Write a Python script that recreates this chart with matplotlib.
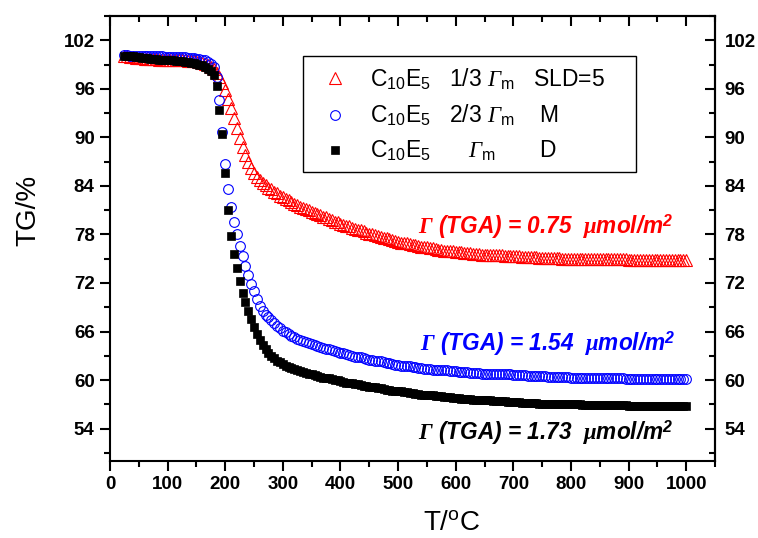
import matplotlib
matplotlib.use("Agg")
import matplotlib.pyplot as plt
from matplotlib.ticker import MultipleLocator
from matplotlib.patches import Rectangle

plt.rcParams['font.family'] = ['Liberation Sans', 'DejaVu Sans']
plt.rcParams['font.weight'] = 'bold'
plt.rcParams['mathtext.fontset'] = 'custom'
plt.rcParams['mathtext.rm'] = 'Liberation Serif:style=italic:weight=normal'
plt.rcParams['mathtext.it'] = 'Liberation Serif:style=italic:weight=normal'
plt.rcParams['mathtext.bf'] = 'Liberation Serif:style=italic:weight=bold'
plt.rcParams['mathtext.sf'] = 'Liberation Sans:style=italic:weight=bold'
plt.rcParams['mathtext.tt'] = 'Liberation Sans:style=normal:weight=normal'

# ---------------- data ----------------
temperature = [
    25, 30, 35, 40, 45, 50, 55, 60, 65, 70,
    75, 80, 85, 90, 95, 100, 105, 110, 115, 120,
    125, 130, 135, 140, 145, 150, 155, 160, 165, 170,
    175, 180, 185, 190, 195, 200, 205, 210, 215, 220,
    225, 230, 235, 240, 245, 250, 255, 260, 265, 270,
    275, 280, 285, 290, 295, 300, 305, 310, 315, 320,
    325, 330, 335, 340, 345, 350, 355, 360, 365, 370,
    375, 380, 385, 390, 395, 400, 405, 410, 415, 420,
    425, 430, 435, 440, 445, 450, 455, 460, 465, 470,
    475, 480, 485, 490, 495, 500, 505, 510, 515, 520,
    525, 530, 535, 540, 545, 550, 555, 560, 565, 570,
    575, 580, 585, 590, 595, 600, 605, 610, 615, 620,
    625, 630, 635, 640, 645, 650, 655, 660, 665, 670,
    675, 680, 685, 690, 695, 700, 705, 710, 715, 720,
    725, 730, 735, 740, 745, 750, 755, 760, 765, 770,
    775, 780, 785, 790, 795, 800, 805, 810, 815, 820,
    825, 830, 835, 840, 845, 850, 855, 860, 865, 870,
    875, 880, 885, 890, 895, 900, 905, 910, 915, 920,
    925, 930, 935, 940, 945, 950, 955, 960, 965, 970,
    975, 980, 985, 990, 995, 1000,
]

tg_third = [  # 1/3 Gamma_m, SLD=5 (red triangles)
    100.0, 100.0, 99.9, 99.9, 99.8, 99.8, 99.8, 99.7, 99.7, 99.7,
    99.7, 99.7, 99.6, 99.6, 99.6, 99.6, 99.6, 99.5, 99.5, 99.5,
    99.5, 99.5, 99.4, 99.4, 99.4, 99.4, 99.3, 99.2, 99.1, 98.9,
    98.7, 98.4, 97.9, 97.4, 96.7, 95.8, 94.8, 93.6, 92.4, 91.1,
    89.9, 88.8, 87.8, 86.9, 86.2, 85.6, 85.1, 84.7, 84.4, 84.1,
    83.8, 83.6, 83.3, 83.1, 82.8, 82.6, 82.4, 82.2, 82.0, 81.8,
    81.6, 81.4, 81.3, 81.1, 81.0, 80.8, 80.7, 80.5, 80.4, 80.2,
    80.1, 79.9, 79.8, 79.6, 79.5, 79.3, 79.2, 79.1, 79.0, 78.8,
    78.7, 78.6, 78.5, 78.4, 78.2, 78.1, 78.0, 77.9, 77.8, 77.7,
    77.6, 77.5, 77.4, 77.3, 77.2, 77.1, 77.0, 77.0, 76.9, 76.8,
    76.7, 76.7, 76.6, 76.5, 76.5, 76.4, 76.3, 76.3, 76.2, 76.1,
    76.1, 76.0, 76.0, 75.9, 75.9, 75.8, 75.8, 75.8, 75.7, 75.7,
    75.7, 75.6, 75.6, 75.6, 75.5, 75.5, 75.5, 75.5, 75.4, 75.4,
    75.4, 75.4, 75.3, 75.3, 75.3, 75.3, 75.3, 75.3, 75.2, 75.2,
    75.2, 75.2, 75.2, 75.2, 75.1, 75.1, 75.1, 75.1, 75.1, 75.1,
    75.1, 75.1, 75.0, 75.0, 75.0, 75.0, 75.0, 75.0, 75.0, 75.0,
    75.0, 75.0, 75.0, 75.0, 75.0, 75.0, 75.0, 75.0, 75.0, 75.0,
    75.0, 75.0, 75.0, 75.0, 75.0, 74.9, 74.9, 74.9, 74.9, 74.9,
    74.9, 74.9, 74.9, 74.9, 74.9, 74.9, 74.9, 74.9, 74.9, 74.9,
    74.9, 74.9, 74.9, 74.9, 74.9, 74.9,
]

tg_two_thirds = [  # 2/3 Gamma_m, M (blue circles)
    100.2, 100.2, 100.1, 100.1, 100.1, 100.1, 100.0, 100.0, 100.0, 100.0,
    100.0, 100.0, 100.0, 100.0, 99.9, 99.9, 99.9, 99.9, 99.9, 99.9,
    99.9, 99.9, 99.8, 99.8, 99.8, 99.7, 99.7, 99.6, 99.5, 99.3,
    99.1, 98.7, 97.4, 94.6, 90.6, 86.7, 83.6, 81.4, 79.6, 78.0,
    76.6, 75.3, 74.1, 73.0, 71.9, 71.0, 70.0, 69.2, 68.6, 68.1,
    67.8, 67.4, 67.0, 66.7, 66.4, 66.1, 65.9, 65.7, 65.5, 65.3,
    65.1, 65.0, 64.8, 64.7, 64.6, 64.4, 64.3, 64.2, 64.1, 64.0,
    63.9, 63.8, 63.7, 63.6, 63.5, 63.4, 63.3, 63.2, 63.1, 63.0,
    62.9, 62.9, 62.8, 62.7, 62.6, 62.5, 62.5, 62.4, 62.3, 62.3,
    62.2, 62.1, 62.1, 62.0, 61.9, 61.9, 61.8, 61.8, 61.7, 61.7,
    61.6, 61.6, 61.5, 61.5, 61.4, 61.4, 61.4, 61.3, 61.3, 61.3,
    61.2, 61.2, 61.2, 61.1, 61.1, 61.1, 61.0, 61.0, 61.0, 61.0,
    60.9, 60.9, 60.9, 60.9, 60.8, 60.8, 60.8, 60.8, 60.8, 60.7,
    60.7, 60.7, 60.7, 60.7, 60.7, 60.6, 60.6, 60.6, 60.6, 60.6,
    60.5, 60.5, 60.5, 60.5, 60.5, 60.5, 60.5, 60.4, 60.4, 60.4,
    60.4, 60.4, 60.4, 60.4, 60.4, 60.3, 60.3, 60.3, 60.3, 60.3,
    60.3, 60.3, 60.3, 60.2, 60.2, 60.2, 60.2, 60.2, 60.2, 60.2,
    60.2, 60.2, 60.2, 60.2, 60.1, 60.1, 60.1, 60.1, 60.1, 60.1,
    60.1, 60.1, 60.1, 60.1, 60.1, 60.1, 60.1, 60.1, 60.1, 60.1,
    60.1, 60.1, 60.1, 60.1, 60.1, 60.1,
]

tg_full = [  # Gamma_m, D (black squares)
    100.1, 100.1, 100.0, 100.0, 99.9, 99.9, 99.8, 99.8, 99.8, 99.7,
    99.7, 99.7, 99.6, 99.6, 99.6, 99.5, 99.5, 99.5, 99.4, 99.4,
    99.4, 99.3, 99.3, 99.2, 99.2, 99.1, 99.0, 98.9, 98.7, 98.5,
    98.2, 97.7, 96.3, 93.4, 90.4, 85.6, 81.0, 77.8, 75.6, 73.8,
    72.2, 70.8, 69.6, 68.5, 67.5, 66.6, 65.7, 64.9, 64.3, 63.8,
    63.3, 63.0, 62.7, 62.4, 62.2, 62.0, 61.8, 61.6, 61.5, 61.4,
    61.2, 61.1, 61.0, 60.9, 60.8, 60.7, 60.6, 60.5, 60.4, 60.3,
    60.3, 60.2, 60.1, 60.0, 60.0, 59.9, 59.8, 59.7, 59.7, 59.6,
    59.5, 59.5, 59.4, 59.3, 59.3, 59.2, 59.1, 59.1, 59.0, 59.0,
    58.9, 58.8, 58.8, 58.7, 58.7, 58.6, 58.6, 58.5, 58.5, 58.4,
    58.4, 58.3, 58.3, 58.2, 58.2, 58.2, 58.1, 58.1, 58.0, 58.0,
    58.0, 57.9, 57.9, 57.9, 57.8, 57.8, 57.8, 57.7, 57.7, 57.7,
    57.7, 57.6, 57.6, 57.6, 57.5, 57.5, 57.5, 57.5, 57.4, 57.4,
    57.4, 57.4, 57.4, 57.3, 57.3, 57.3, 57.3, 57.3, 57.2, 57.2,
    57.2, 57.2, 57.2, 57.2, 57.1, 57.1, 57.1, 57.1, 57.1, 57.1,
    57.1, 57.0, 57.0, 57.0, 57.0, 57.0, 57.0, 57.0, 57.0, 56.9,
    56.9, 56.9, 56.9, 56.9, 56.9, 56.9, 56.9, 56.9, 56.9, 56.9,
    56.9, 56.9, 56.9, 56.9, 56.9, 56.8, 56.8, 56.8, 56.8, 56.8,
    56.8, 56.8, 56.8, 56.8, 56.8, 56.8, 56.8, 56.8, 56.8, 56.8,
    56.8, 56.8, 56.8, 56.8, 56.8, 56.8,
]

legend_labels = [
    r"C$_{\mathtt{10}}$E$_{\mathtt{5}}$   1/3 $\Gamma_{\mathtt{m}}$   SLD=5",
    r"C$_{\mathtt{10}}$E$_{\mathtt{5}}$   2/3 $\Gamma_{\mathtt{m}}$    M",
    r"C$_{\mathtt{10}}$E$_{\mathtt{5}}$      $\Gamma_{\mathtt{m}}$       D",
]
gamma_values = ["0.75", "1.54", "1.73"]
note_colors = ["#FF0000", "#0000FF", "#000000"]
note_pos = [(535, 78.1), (538, 63.6), (535, 52.6)]
x_ticks = [0, 100, 200, 300, 400, 500, 600, 700, 800, 900, 1000]
y_ticks = [54, 60, 66, 72, 78, 84, 90, 96, 102]

# ---------------- figure ----------------
fig = plt.figure(figsize=(7.58, 5.38), dpi=100)
ax = fig.add_axes([0.1451, 0.1431, 0.9433 - 0.1451, 0.9703 - 0.1431])

ax.plot(temperature, tg_third, linestyle='none', marker='^', markersize=8,
        markerfacecolor='none', markeredgecolor='#FF0000', markeredgewidth=0.8,
        label=legend_labels[0])
ax.plot(temperature, tg_two_thirds, linestyle='none', marker='o', markersize=7,
        markerfacecolor='none', markeredgecolor='#0000FF', markeredgewidth=0.8,
        label=legend_labels[1])
ax.plot(temperature, tg_full, linestyle='none', marker='s', markersize=6,
        markerfacecolor='black', markeredgecolor='black', markeredgewidth=0.5,
        label=legend_labels[2])

ax.set_xlim(0, 1050)
ax.set_ylim(50, 105)

for s in ax.spines.values():
    s.set_linewidth(1.5)

ax.set_xticks(x_ticks)
ax.set_yticks(y_ticks)
ax.xaxis.set_minor_locator(MultipleLocator(50))
ax.yaxis.set_minor_locator(MultipleLocator(3))
ax.tick_params(which='major', direction='out', length=7, width=1.5,
               labelsize=13.5, pad=4)
ax.tick_params(which='minor', direction='out', length=4, width=1.5)

secy = ax.secondary_yaxis('right')
secy.set_yticks(y_ticks)
secy.yaxis.set_minor_locator(MultipleLocator(3))
secy.tick_params(which='major', direction='in', length=7, width=1.5,
                 labelsize=13.5, pad=7)
secy.tick_params(which='minor', direction='in', length=4, width=1.5)
secy.spines['right'].set_linewidth(1.5)

secx = ax.secondary_xaxis('top')
secx.set_xticks(x_ticks)
secx.xaxis.set_minor_locator(MultipleLocator(50))
secx.tick_params(which='major', direction='in', length=7, width=1.5,
                 labeltop=False)
secx.tick_params(which='minor', direction='in', length=4, width=1.5)
secx.spines['top'].set_linewidth(1.5)

ax.set_ylabel("TG/%", fontsize=20, fontweight='normal')
ax.yaxis.set_label_coords(-0.114, 0.564)
ax.set_xlabel(r"T/$^{\mathtt{o}}$C", fontsize=20, fontweight='normal')
ax.xaxis.set_label_coords(0.564, -0.111)

for val, col, (tx, ty) in zip(gamma_values, note_colors, note_pos):
    ax.text(tx, ty, r"$\mathbf{\Gamma}$ (TGA) = " + val + r"  $\mathbf{\mu}$mol/m$^{\mathsf{2}}$",
            color=col, fontsize=16.3, fontweight='bold', style='italic',
            ha='left', va='baseline')

# legend frame drawn as a rectangle in axes fraction
ax.add_patch(Rectangle((0.319, 0.649), 0.869 - 0.319, 0.910 - 0.649,
                       transform=ax.transAxes, facecolor='white',
                       edgecolor='black', linewidth=1.0, zorder=4))
leg = ax.legend(loc='upper left', bbox_to_anchor=(0.319, 0.928),
                borderaxespad=0, frameon=False,
                prop={'size': 16.5, 'weight': 'normal'},
                handlelength=1.2, handletextpad=0.92, borderpad=0.8,
                labelspacing=0.48)
leg.set_zorder(5)

fig.savefig("out.png", dpi=100)
